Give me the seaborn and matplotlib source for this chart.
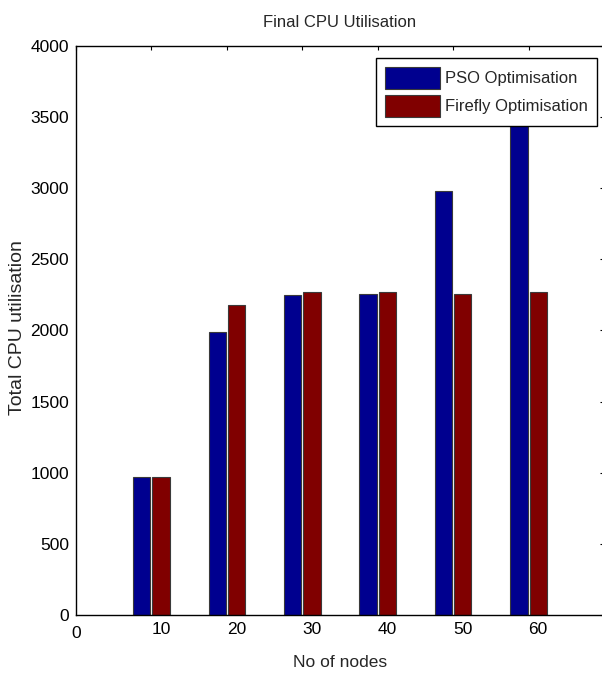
import pandas as pd
import numpy as np
import matplotlib
matplotlib.use("Agg")
import matplotlib.pyplot as plt
import matplotlib.transforms as mtransforms
import seaborn as sns

# data
nodes = [10, 20, 30, 40, 50, 60]
pso = [972, 1992, 2250, 2259, 2983, 3600]
firefly = [972, 2179, 2271, 2271, 2259, 2271]
methods = ["PSO Optimisation", "Firefly Optimisation"]
colors = ["#00008F", "#800000"]
y_ticks = [0, 500, 1000, 1500, 2000, 2500, 3000, 3500, 4000]
x_ticks = [0, 10, 20, 30, 40, 50, 60]


def main():
    df = pd.DataFrame({
        "nodes": nodes * 2,
        "value": pso + firefly,
        "method": [methods[0]] * len(nodes) + [methods[1]] * len(nodes),
    })

    sns.set_style("white")
    plt.rcParams["font.family"] = ["Liberation Sans", "DejaVu Sans"]

    fig = plt.figure(figsize=(6.02, 6.73), dpi=100)
    ax = fig.add_axes([76 / 602, 58 / 673, 528 / 602, 569 / 673])

    sns.barplot(data=df, x="nodes", y="value", hue="method", native_scale=True,
                palette=colors, hue_order=methods, width=0.51, gap=0.1,
                saturation=1, errorbar=None, edgecolor="#3a3a3a",
                linewidth=0.8, ax=ax)

    ax.set_xlim(0, 70)
    ax.set_ylim(0, 4000)
    ax.set_yticks(y_ticks)
    ax.set_xticks(x_ticks)
    ax.set_xticklabels([str(t) for t in x_ticks])
    ax.tick_params(axis="both", direction="in", length=3, width=0.8,
                   labelsize=12.5, colors="black", pad=5)
    ax.tick_params(axis="y", right=True)
    ax.tick_params(axis="x", top=True)

    # MATLAB export shifted the labels a bit
    for i, lab in enumerate(ax.get_xticklabels()):
        if i == 0:
            off = mtransforms.ScaledTranslation(0, -4 / 100, fig.dpi_scale_trans)
        else:
            off = mtransforms.ScaledTranslation(9.5 / 100, 0, fig.dpi_scale_trans)
        lab.set_transform(lab.get_transform() + off)

    for s in ax.spines.values():
        s.set_visible(True)
        s.set_color("black")
        s.set_linewidth(1.0)

    ax.set_title("Final CPU Utilisation", fontsize=12, pad=14)
    ax.set_xlabel("No of nodes", fontsize=12.5, labelpad=10)
    ax.set_ylabel("Total CPU utilisation", fontsize=14)
    ax.yaxis.set_label_coords(-0.095, 0.505)

    leg = ax.legend(loc="upper right", bbox_to_anchor=(597 / 602, 1 - 58 / 673),
                    bbox_transform=fig.transFigure, frameon=True, fancybox=False,
                    framealpha=1, fontsize=12, handlelength=3.3, handleheight=1.6,
                    borderpad=0.55, labelspacing=0.4, handletextpad=0.3,
                    borderaxespad=0)
    leg.get_frame().set_edgecolor("black")
    leg.get_frame().set_linewidth(1.0)

    fig.savefig("out.png", dpi=100)


if __name__ == "__main__":
    main()
